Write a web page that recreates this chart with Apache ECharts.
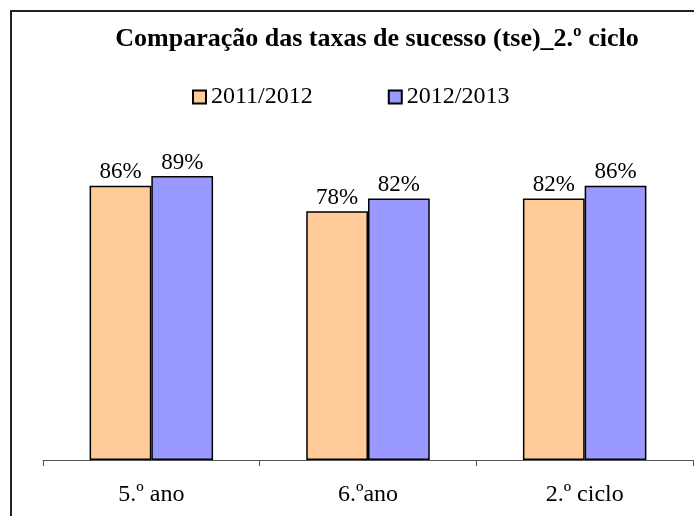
<!DOCTYPE html>
<html>
<head>
    <meta charset="utf-8">
    <title>Comparação das taxas de sucesso</title>
    <script src="https://cdn.jsdelivr.net/npm/echarts@6/dist/echarts.min.js"></script>
    <style>
        html, body { margin: 0; padding: 0; background: #ffffff; }
        #chart { width: 694px; height: 516px; }
    </style>
</head>
<body>
    <div id="chart"></div>
    <script>
        // dados do gráfico
        var categorias = ['5.º ano', '6.ºano', '2.º ciclo'];
        var serie2011 = [86, 78, 82];
        var serie2012 = [89, 82, 86];
        var nomesSeries = ['2011/2012', '2012/2013'];

        var fonte = '"Liberation Serif", "DejaVu Serif", serif';
        var chart = echarts.init(document.getElementById('chart'));

        var option = {
            backgroundColor: '#ffffff',
            animation: false,
            graphic: [{
                type: 'rect',
                shape: { x: 11, y: 11, width: 720, height: 540 },
                style: { fill: 'none', stroke: '#222', lineWidth: 2 },
                silent: true
            }],
            title: {
                text: 'Comparação das taxas de sucesso (tse)_2.º ciclo',
                left: 372,
                textAlign: 'center',
                top: 21,
                textStyle: { fontFamily: fonte, fontSize: 26, fontWeight: 'bold', color: '#000' }
            },
            legend: {
                data: nomesSeries,
                top: 80,
                left: 187,
                itemGap: 75,
                itemWidth: 13,
                itemHeight: 13,
                icon: 'rect',
                textStyle: { fontFamily: fonte, fontSize: 24, color: '#000' }
            },
            grid: { left: 43, right: 1, top: 141, bottom: 56 },
            xAxis: {
                type: 'category',
                data: categorias,
                axisLine: { lineStyle: { color: '#555', width: 1 } },
                axisTick: { show: true, length: 6, lineStyle: { color: '#555' } },
                axisLabel: { fontFamily: fonte, fontSize: 24, color: '#000', margin: 23 }
            },
            yAxis: {
                type: 'value',
                min: 0,
                max: 100,
                show: false,
                splitLine: { show: false }
            },
            series: [
                {
                    name: nomesSeries[0],
                    type: 'bar',
                    data: serie2011,
                    barGap: '0%',
                    barCategoryGap: '43%',
                    itemStyle: { color: '#FFCC99', borderColor: '#000', borderWidth: 1.5 },
                    label: {
                        show: true, position: 'top', formatter: '{c}%', distance: 2,
                        fontFamily: fonte, fontSize: 23, color: '#000'
                    }
                },
                {
                    name: nomesSeries[1],
                    type: 'bar',
                    data: serie2012,
                    itemStyle: { color: '#9999FF', borderColor: '#000', borderWidth: 1.5 },
                    label: {
                        show: true, position: 'top', formatter: '{c}%', distance: 2,
                        fontFamily: fonte, fontSize: 23, color: '#000'
                    }
                }
            ]
        };

        chart.setOption(option);
    </script>
</body>
</html>
